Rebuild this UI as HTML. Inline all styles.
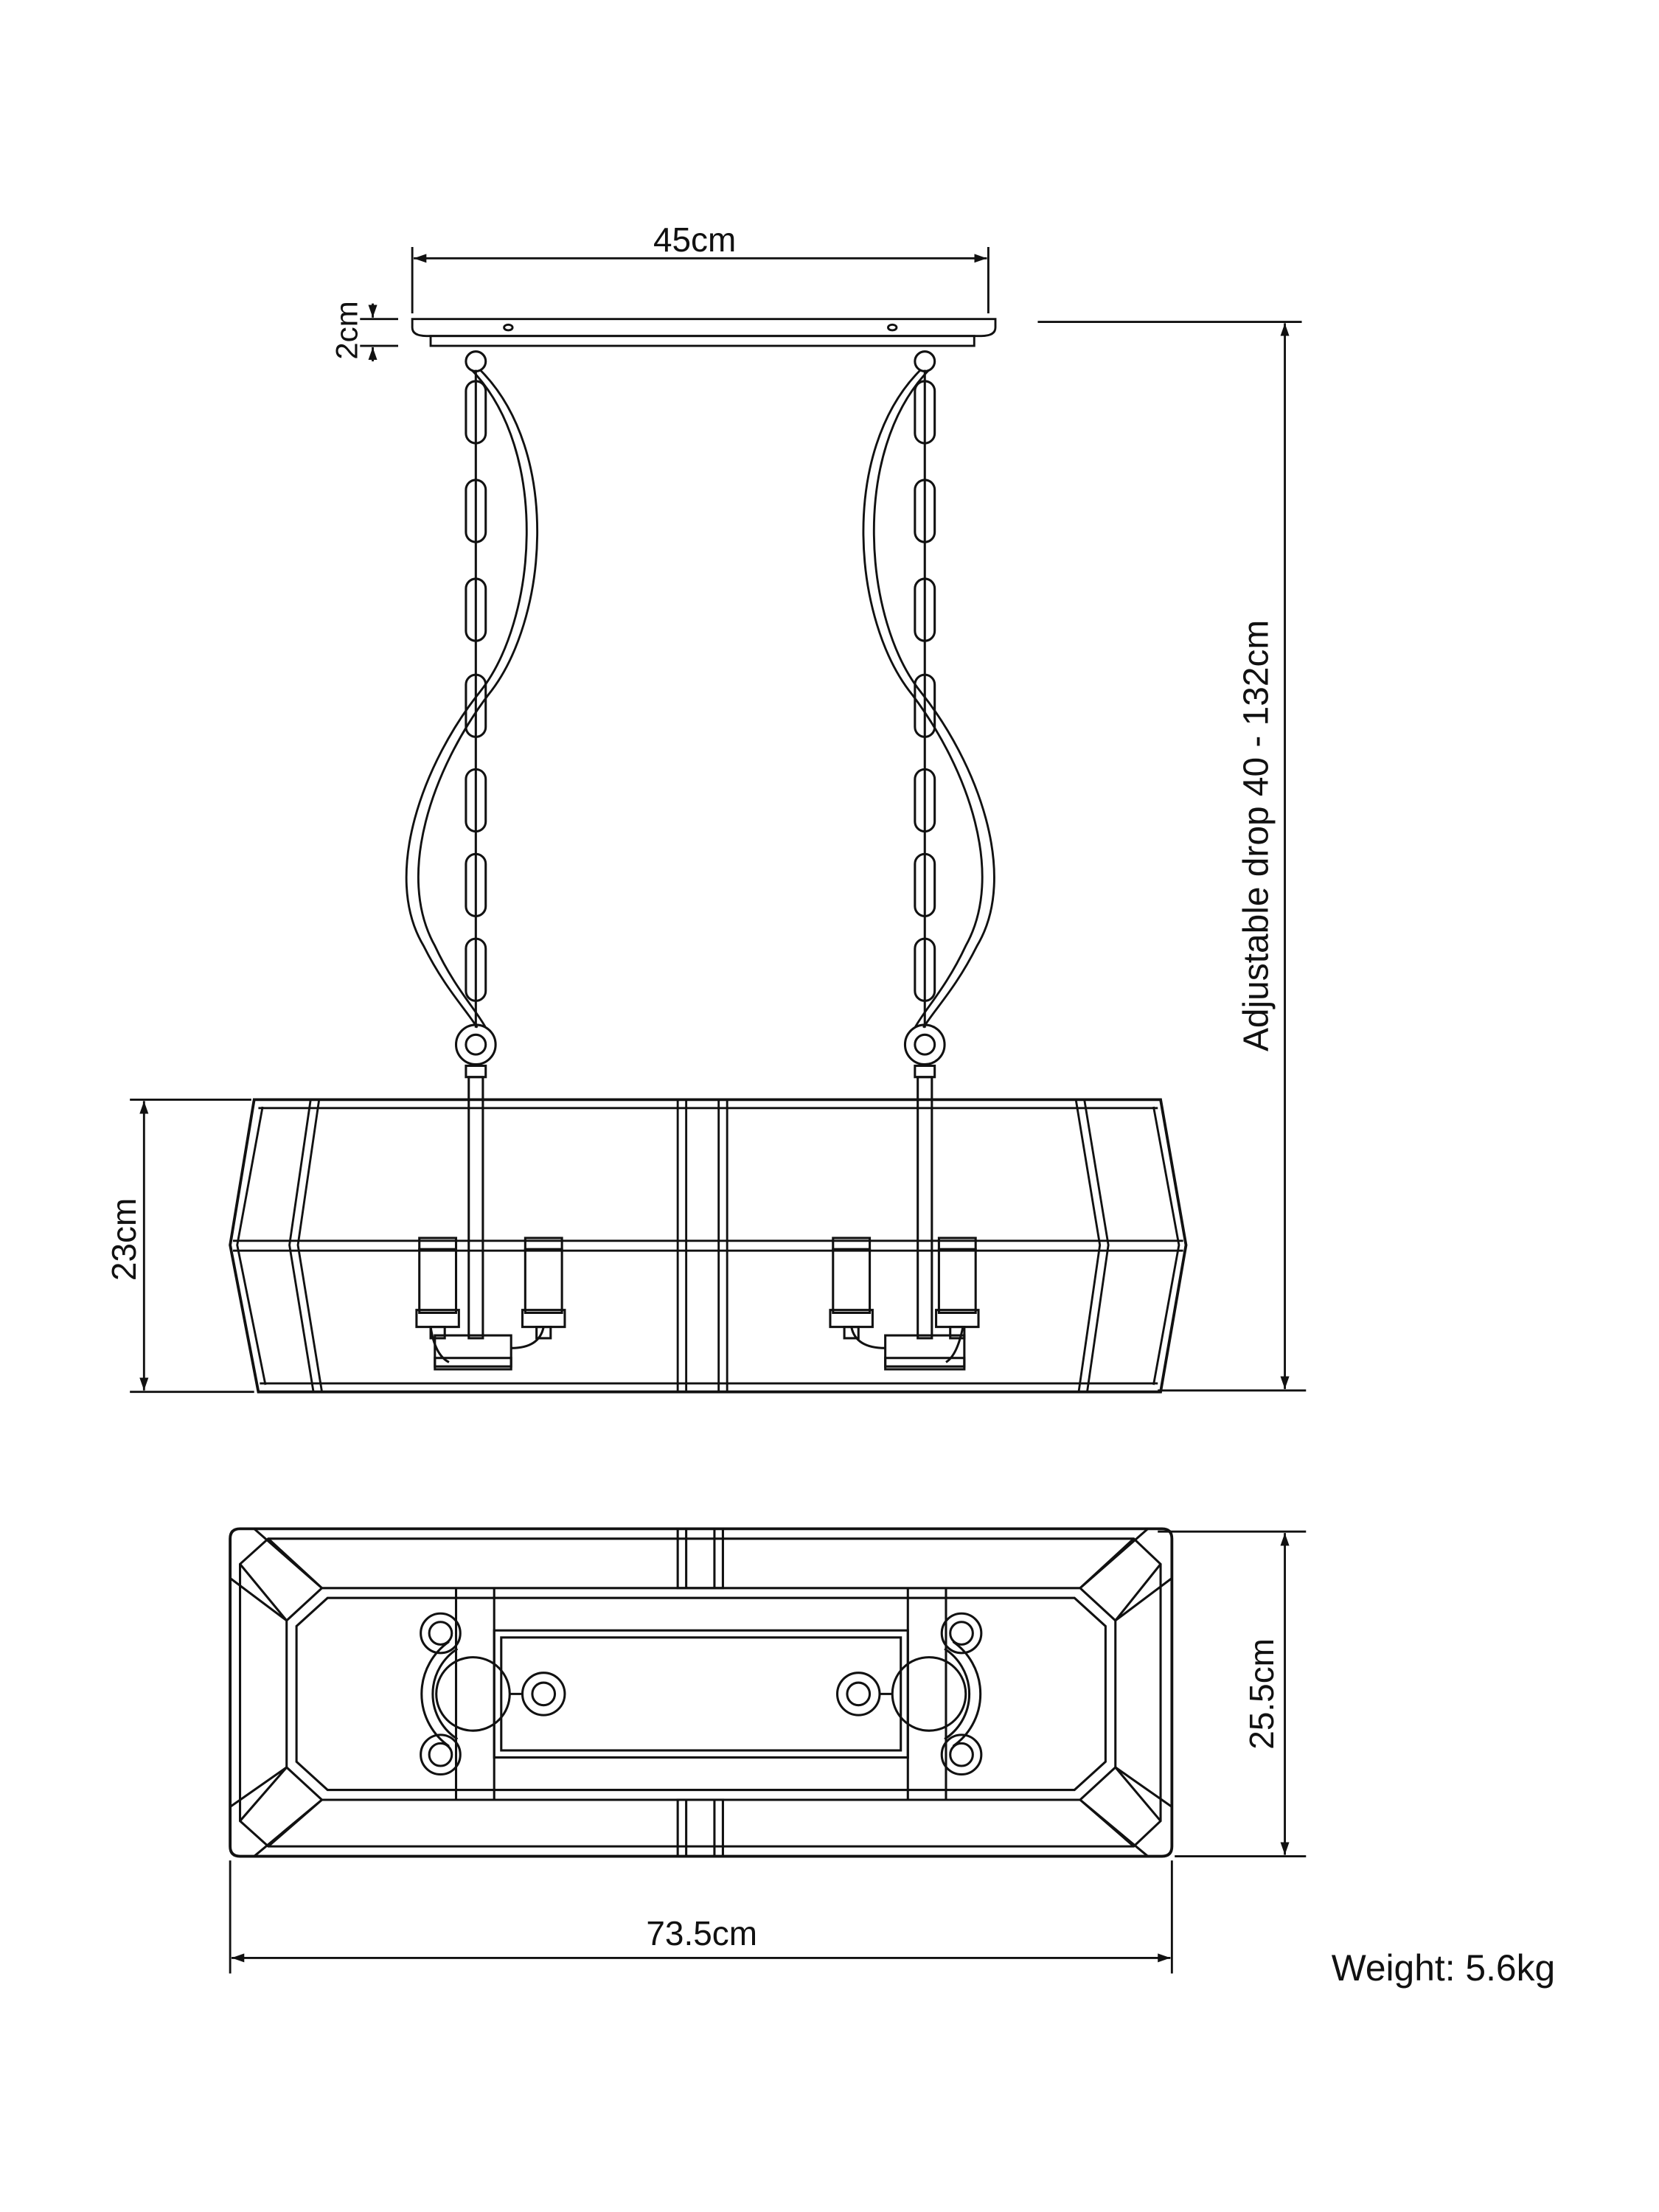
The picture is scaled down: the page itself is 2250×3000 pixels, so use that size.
<!DOCTYPE html>
<html><head><meta charset="utf-8"><style>
html,body{margin:0;padding:0;background:#fff}
svg{display:block}
text{font-family:"Liberation Sans",sans-serif;fill:#111}
</style></head><body>
<svg width="2250" height="3000" viewBox="0 0 1175 1567" preserveAspectRatio="none" xmlns="http://www.w3.org/2000/svg">
<defs>
<marker id="a" viewBox="0 0 10 10" refX="10" refY="5" markerWidth="9" markerHeight="9" orient="auto-start-reverse" markerUnits="userSpaceOnUse"><path d="M0,1.5 L10,5 L0,8.5 z" fill="#111"/></marker>
<g id="chain" fill="none" stroke="#111" stroke-width="1.6">
<line x0="0" x1="0" y1="262" y2="728"/>
<rect x="-7" y="270" width="14" height="44" rx="7"/>
<rect x="-7" y="340" width="14" height="44" rx="7"/>
<rect x="-7" y="410" width="14" height="44" rx="7"/>
<rect x="-7" y="478" width="14" height="44" rx="7"/>
<rect x="-7" y="545" width="14" height="44" rx="7"/>
<rect x="-7" y="605" width="14" height="44" rx="7"/>
<rect x="-7" y="665" width="14" height="44" rx="7"/>
<circle cx="0" cy="256" r="7"/>
<circle cx="0" cy="740" r="14"/><circle cx="0" cy="740" r="7"/>
<rect x="-7" y="755" width="14" height="8"/>
<rect x="-5" y="763" width="10" height="185"/>
</g>
<g id="cand" fill="none" stroke="#111" stroke-width="1.6">
<rect x="0" y="877" width="26" height="8"/>
<rect x="0" y="885" width="26" height="45"/>
<rect x="-2" y="928" width="30" height="12"/>
<rect x="8" y="940" width="10" height="8"/>
</g>
</defs>
<g fill="none" stroke="#111" stroke-width="1.5">
<!-- top dim -->
<line x1="292" y1="175" x2="292" y2="222"/><line x1="700" y1="175" x2="700" y2="222"/>
<line x1="293" y1="183" x2="699" y2="183" marker-start="url(#a)" marker-end="url(#a)"/>
<!-- plate -->
<path d="M292,226 L705,226 L705,232 Q705,238 695,238 L302,238 Q292,238 292,232 Z"/>
<rect x="305" y="238" width="385" height="7"/>
<ellipse cx="360" cy="232" rx="3" ry="2"/><ellipse cx="632" cy="232" rx="3" ry="2"/>
<!-- 2cm -->
<line x1="255" y1="226" x2="282" y2="226"/><line x1="255" y1="245" x2="282" y2="245"/>
<line x1="264" y1="215" x2="264" y2="225" marker-end="url(#a)"/>
<line x1="264" y1="256" x2="264" y2="246" marker-end="url(#a)"/>
<!-- right dim -->
<line x1="735" y1="228" x2="922" y2="228"/><line x1="820" y1="985" x2="925" y2="985"/>
<line x1="910" y1="229" x2="910" y2="984" marker-start="url(#a)" marker-end="url(#a)"/>
<!-- 23cm -->
<line x1="92" y1="779" x2="178" y2="779"/><line x1="92" y1="986" x2="180" y2="986"/>
<line x1="102" y1="780" x2="102" y2="985" marker-start="url(#a)" marker-end="url(#a)"/>
</g>
<use href="#chain" x="337"/>
<use href="#chain" x="655"/>
<g fill="none" stroke="#111" stroke-width="1.5">
<!-- curved rods -->
<path d="M334,262 C390,320 380,440 340,490 C300,540 270,620 300,670 C315,700 330,715 338,728"/>
<path d="M340,262 C398,320 388,440 346,492 C306,545 280,620 308,670 C322,700 337,715 344,728"/>
<path d="M658,262 C602,320 612,440 652,490 C692,540 722,620 692,670 C677,700 662,715 654,728"/>
<path d="M652,262 C594,320 604,440 646,492 C686,545 712,620 684,670 C670,700 655,715 648,728"/>
<!-- lamp side -->
<path d="M180,779 L822,779 L840,882 L822,986 L183,986 L163,882 Z" stroke-width="2"/>
<path d="M186,784 L168,882 L188,981"/>
<path d="M817,784 L835,882 L817,981"/>
<path d="M220,779 L205,882 L222,986"/><path d="M226,779 L211,882 L228,986"/>
<path d="M768,779 L785,882 L770,986"/><path d="M762,779 L779,882 L764,986"/>
<line x1="480" y1="779" x2="480" y2="986"/><line x1="486" y1="779" x2="486" y2="986"/>
<line x1="509" y1="779" x2="509" y2="986"/><line x1="515" y1="779" x2="515" y2="986"/>
<line x1="183" y1="785" x2="820" y2="785"/>
<line x1="165" y1="879" x2="838" y2="879"/><line x1="165" y1="886" x2="838" y2="886"/>
<line x1="184" y1="980" x2="820" y2="980"/>
</g>
<use href="#cand" x="297"/><use href="#cand" x="372"/>
<use href="#cand" x="590"/><use href="#cand" x="665"/>
<g fill="none" stroke="#111" stroke-width="1.6">
<rect x="308" y="946" width="54" height="22"/><rect x="308" y="962" width="54" height="8"/>
<rect x="627" y="946" width="56" height="22"/><rect x="627" y="962" width="56" height="8"/>
<path d="M305,940 Q308,960 318,965"/><path d="M385,940 Q382,955 362,955"/>
<path d="M603,940 Q606,955 627,955"/><path d="M682,940 Q678,960 670,965"/>
<!-- plan view -->
<path d="M170,1083 L823,1083 Q830,1083 830,1090 L830,1308 Q830,1315 823,1315 L170,1315 Q163,1315 163,1308 L163,1090 Q163,1083 170,1083 Z" stroke-width="2"/>
<path d="M190,1090 L803,1090 L822,1108 L822,1290 L803,1308 L190,1308 L170,1290 L170,1108 Z"/>
<path d="M228,1125 L765,1125 L790,1148 L790,1252 L765,1275 L228,1275 L203,1252 L203,1148 Z"/>
<path d="M232,1132 L761,1132 L783,1152 L783,1248 L761,1268 L232,1268 L210,1248 L210,1152 Z"/>
<path d="M170,1108 L203,1148 M190,1090 L228,1125 M163,1118 L203,1148 M180,1083 L228,1125"/>
<path d="M822,1108 L790,1148 M803,1090 L765,1125 M830,1118 L790,1148 M813,1083 L765,1125"/>
<path d="M170,1290 L203,1252 M190,1308 L228,1275 M163,1280 L203,1252 M180,1315 L228,1275"/>
<path d="M822,1290 L790,1252 M803,1308 L765,1275 M830,1280 L790,1252 M813,1315 L765,1275"/>
<rect x="480" y="1083" width="32" height="42"/><line x1="486" y1="1083" x2="486" y2="1125"/><line x1="506" y1="1083" x2="506" y2="1125"/>
<rect x="480" y="1275" width="32" height="40"/><line x1="486" y1="1275" x2="486" y2="1315"/><line x1="506" y1="1275" x2="506" y2="1315"/>
<line x1="323" y1="1125" x2="323" y2="1275"/><line x1="350" y1="1125" x2="350" y2="1275"/>
<line x1="643" y1="1125" x2="643" y2="1275"/><line x1="670" y1="1125" x2="670" y2="1275"/>
<rect x="350" y="1155" width="293" height="90"/><rect x="355" y="1160" width="283" height="80"/>
<!-- clusters -->
<circle cx="335" cy="1200" r="26"/>
<path d="M318,1163 A45,45 0 0 0 318,1237"/><path d="M324,1168 A38,38 0 0 0 324,1232"/>
<circle cx="312" cy="1157" r="14"/><circle cx="312" cy="1157" r="8"/>
<circle cx="312" cy="1243" r="14"/><circle cx="312" cy="1243" r="8"/>
<circle cx="385" cy="1200" r="15"/><circle cx="385" cy="1200" r="8"/>
<line x1="361" y1="1200" x2="370" y2="1200"/>
<circle cx="658" cy="1200" r="26"/>
<path d="M675,1163 A45,45 0 0 1 675,1237"/><path d="M669,1168 A38,38 0 0 1 669,1232"/>
<circle cx="681" cy="1157" r="14"/><circle cx="681" cy="1157" r="8"/>
<circle cx="681" cy="1243" r="14"/><circle cx="681" cy="1243" r="8"/>
<circle cx="608" cy="1200" r="15"/><circle cx="608" cy="1200" r="8"/>
<line x1="623" y1="1200" x2="632" y2="1200"/>
</g>
<g fill="none" stroke="#111" stroke-width="1.5">
<line x1="820" y1="1085" x2="925" y2="1085"/><line x1="832" y1="1315" x2="925" y2="1315"/>
<line x1="910" y1="1086" x2="910" y2="1314" marker-start="url(#a)" marker-end="url(#a)"/>
<line x1="163" y1="1318" x2="163" y2="1398"/><line x1="830" y1="1318" x2="830" y2="1398"/>
<line x1="164" y1="1387" x2="829" y2="1387" marker-start="url(#a)" marker-end="url(#a)"/>
</g>
<text x="492" y="178" font-size="24" text-anchor="middle">45cm</text>
<text transform="translate(253,234) rotate(-90)" font-size="22" text-anchor="middle">2cm</text>
<text transform="translate(898,592) rotate(-90)" font-size="25" text-anchor="middle">Adjustable drop 40 - 132cm</text>
<text transform="translate(96,878) rotate(-90)" font-size="24" text-anchor="middle">23cm</text>
<text transform="translate(902,1200) rotate(-90)" font-size="24" text-anchor="middle">25.5cm</text>
<text x="497" y="1378" font-size="24" text-anchor="middle">73.5cm</text>
<text x="943" y="1403" font-size="26">Weight: 5.6kg</text>
</svg>
</body></html>
